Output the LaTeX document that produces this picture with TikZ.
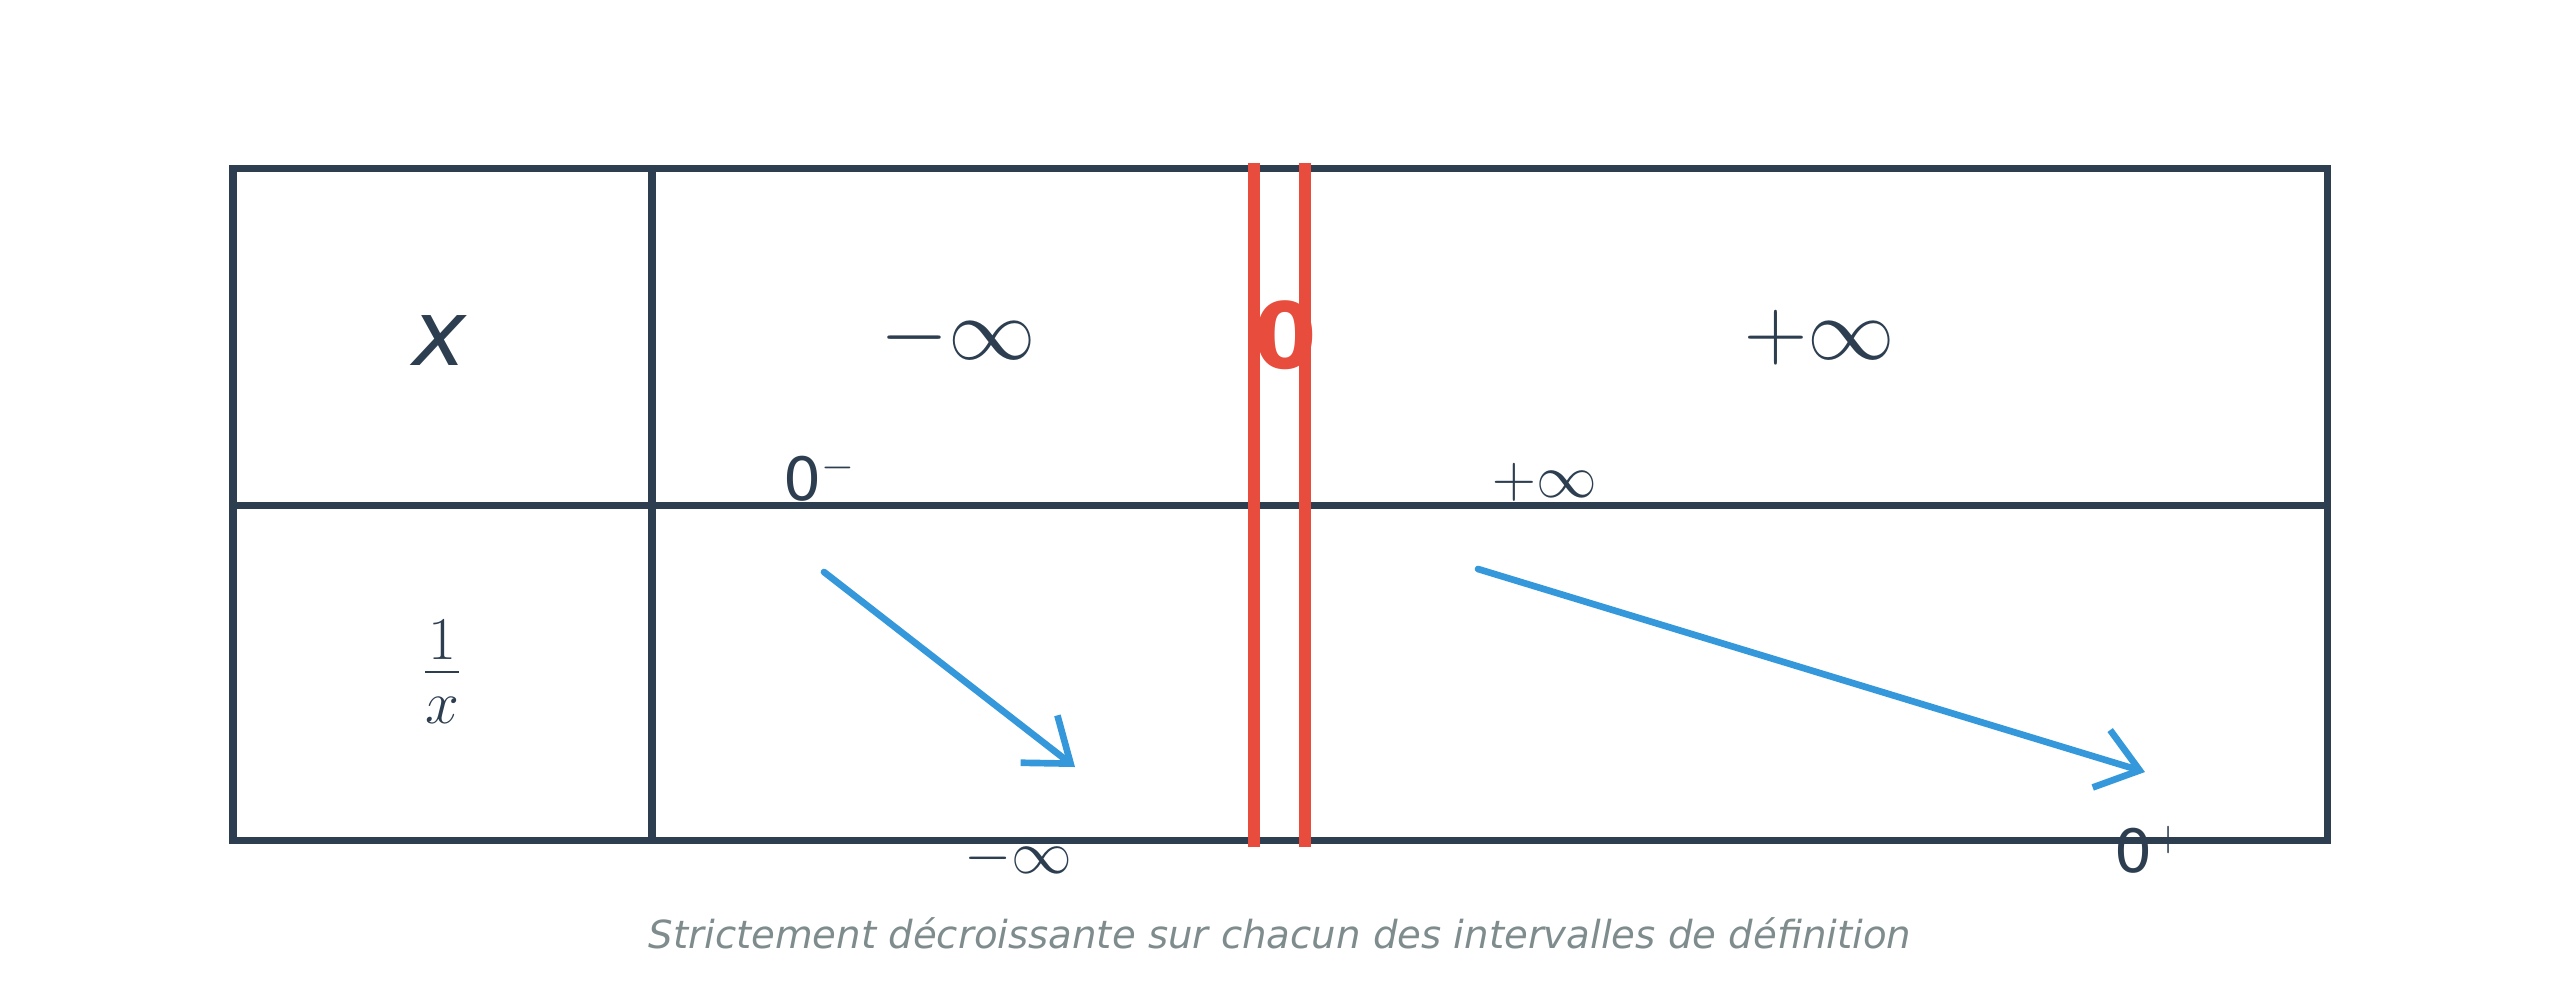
\documentclass[tikz,border=0pt]{standalone}
\usepackage{fontspec}
\setmainfont{DejaVu Sans}
\usetikzlibrary{arrows.meta}
\definecolor{ink}{HTML}{2C3E50}
\definecolor{pole}{HTML}{E74C3C}
\definecolor{trend}{HTML}{3498DB}
\definecolor{note}{HTML}{7F8C8D}
\tikzset{
  grid line/.style={ink,line width=2pt},
  big/.style={ink,font=\fontsize{24}{28}\selectfont},
  small/.style={ink,font=\fontsize{17}{20}\selectfont},
  var arrow/.style={trend,line width=1.9pt,line cap=round,-{Straight Barb[length=4mm,width=6mm,line width=1.9pt]}}
}
\begin{document}
\begin{tikzpicture}[x=1cm,y=-1cm]
\useasboundingbox (0,0) rectangle (25.6,9.89);

\draw[grid line] (2.33,1.68) rectangle (23.27,8.40);
\draw[grid line] (2.33,5.05) -- (23.27,5.05);
\draw[grid line] (6.52,1.68) -- (6.52,8.40);

\node[big,font=\fontsize{26}{30}\selectfont\itshape] (x) at (4.40,3.40) {x};
\node[big] (minf) at (9.58,3.38) {$-\infty$};
\node[big] (pinf) at (18.20,3.38) {$+\infty$};
\node[pole,font=\fontsize{26}{30}\selectfont\bfseries] (zero) at (12.85,3.35) {0};

\node[big] (inv) at (4.42,6.72) {$\frac{1}{x}$};

\node[small] (zm) at (8.20,4.78) {0$^{-}$};
\node[small] (ptop) at (15.45,4.82) {$+\infty$};
\node[small] (mbot) at (10.18,8.58) {$-\infty$};
\node[small] (zp) at (21.50,8.50) {0$^{+}$};

\coordinate (a1) at (8.24,5.72);
\coordinate (b1) at (10.75,7.67);
\coordinate (a2) at (14.78,5.69);
\coordinate (b2) at (21.45,7.72);
\draw[var arrow] (a1) -- (b1);
\draw[var arrow] (a2) -- (b2);

\draw[pole,line width=3.4pt] (12.54,1.63) -- (12.54,8.47);
\draw[pole,line width=3.4pt] (13.05,1.63) -- (13.05,8.47);

\node[note,font=\fontsize{11}{13}\selectfont\itshape] (cap) at (12.80,9.33) {Strictement décroissante sur chacun des intervalles de définition};
\end{tikzpicture}
\end{document}
